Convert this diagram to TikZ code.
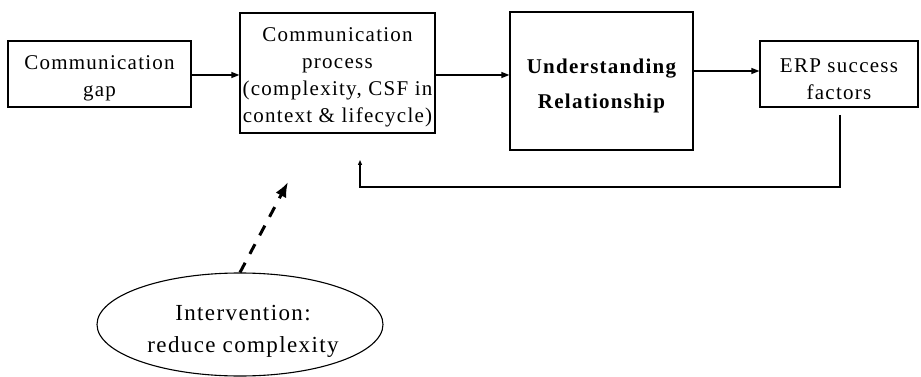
\documentclass[tikz,border=0pt]{standalone}
\usepackage{fontspec}
\setmainfont{Liberation Serif}[LetterSpace=6]
\usetikzlibrary{arrows.meta,shapes.geometric}
\begin{document}
\begin{tikzpicture}[x=1pt,y=-1pt,
  box/.style={draw,line width=1.3pt,rectangle,inner sep=0pt},
  txt/.style={align=center,inner sep=0pt,font=\fontsize{21}{27}\selectfont},
  conn/.style={line width=1.3pt,-{Triangle[length=8pt,width=6pt]}},
  fb/.style={line width=1.1pt,-{Triangle[length=5pt,width=4pt]}}]
\useasboundingbox (0,0) rectangle (921,377);
\node[box,minimum width=183pt,minimum height=66pt] (gap) at (99.5,74) {};
\node[txt] (gapt) at (99.5,78) {Communication\\gap};
\node[box,minimum width=195pt,minimum height=120pt] (proc) at (337.5,73) {};
\node[txt] (proct) at (337.5,77) {Communication\\process\\(complexity, CSF in\\context \& lifecycle)};
\node[box,minimum width=183pt,minimum height=138pt] (und) at (601.5,81) {};
\node[txt,font=\fontsize{21}{35}\selectfont\bfseries] (undt) at (601.5,86) {Understanding\\Relationship};
\node[box,minimum width=158pt,minimum height=66pt] (erp) at (839,74) {};
\node[txt] (erpt) at (839,79) {ERP success\\factors};
\node[draw,ellipse,line width=1.1pt,minimum width=286pt,minimum height=103pt,inner sep=0pt] (int) at (240,324.5) {};
\node[txt,font=\fontsize{23}{32}\selectfont] (intt) at (243,331) {Intervention:\\reduce complexity};
\draw[conn] (gap.east |- 0,75) -- (proc.west |- 0,75);
\draw[conn] (proc.east |- 0,75) -- (und.west |- 0,75);
\draw[conn] (und.east |- 0,71) -- (erp.west |- 0,71);
\coordinate (fbstart) at (840,115);
\coordinate (fbend) at (360,160);
\draw[fb] (fbstart) |- (fbend |- 0,187) -- (fbend);
\coordinate (dashend) at (288,182);
\draw[line width=3pt,dash pattern=on 11pt off 10pt,-{Latex[length=15pt,width=12pt]}] (int.north) -- (dashend);
\end{tikzpicture}
\end{document}
